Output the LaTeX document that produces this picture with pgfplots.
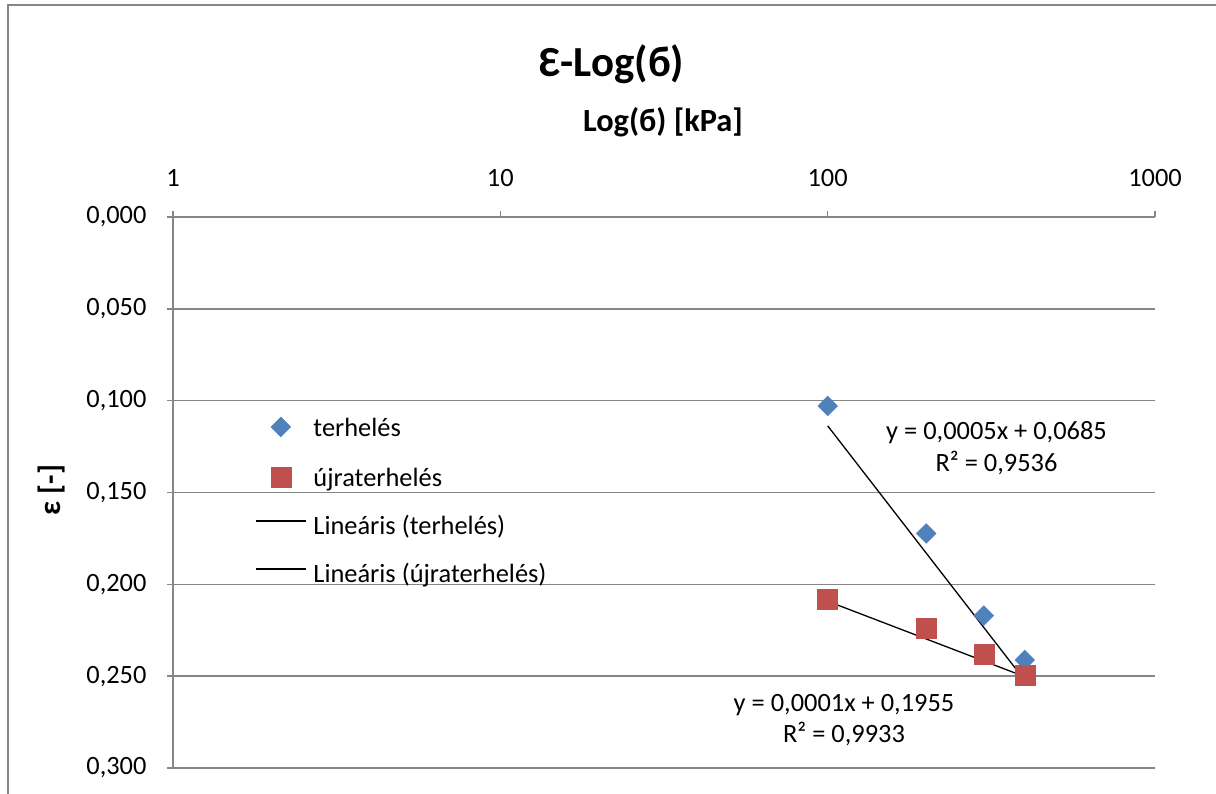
\documentclass[border=0pt]{standalone}
\usepackage{fontspec}
\setmainfont{Carlito}
\usepackage{pgfplots}
\pgfplotsset{compat=1.18}
\definecolor{gridgray}{RGB}{134,134,134}
\definecolor{serblue}{RGB}{79,129,189}
\definecolor{serred}{RGB}{192,80,77}
\pgfplotsset{
  legmark/.style={legend image code/.code={\draw[##1] plot coordinates {(25bp,4bp)};}},
  legline/.style={legend image code/.code={\draw[##1] (0bp,8bp) -- (50bp,8bp);}},
}
\begin{document}
\begin{tikzpicture}[x=1bp,y=1bp]
\useasboundingbox (0,0) rectangle (1216,794);
\fill[white] (0,0) rectangle (1216,794);
\draw[gridgray, line width=2bp] (8,-5) -- (8,788.5) -- (1225,788.5);
\begin{axis}[
  at={(173bp,26bp)}, anchor=south west,
  width=982bp, height=551bp, scale only axis,
  xmode=log, xmin=1, xmax=1000,
  ymin=0, ymax=0.3, y dir=reverse,
  axis x line*=top, axis y line*=left,
  axis line style={gridgray, line width=1.5bp, -},
  xtick={1,10,100,1000}, xticklabels={1,10,100,1000},
  xminorticks=false,
  ytick={0,0.05,0.1,0.15,0.2,0.25,0.3},
  yticklabels={{0,000},{0,050},{0,100},{0,150},{0,200},{0,250},{0,300}},
  tick align=outside, major tick length=6bp,
  tick style={gridgray, line width=1.5bp},
  ymajorgrids, grid style={gridgray, line width=1.5bp},
  ticklabel style={font=\fontsize{26.5}{32}\selectfont, text=black},
  yticklabel style={xshift=-17bp},
  xticklabel style={yshift=21bp},
  clip=false,
  legend style={at={(0.0804,0.481)}, anchor=west, draw=none, fill=none,
    font=\fontsize{26.5}{32}\selectfont,
    nodes={inner sep=0pt, text height=18bp, text depth=6bp},
    row sep=24bp,
    /tikz/every odd column/.style={column sep=7bp}},
  legend cell align=left,
]
\addplot[only marks, mark=square*, mark size=7bp, mark options={rotate=45, fill=serblue, draw=serblue}, legmark]
  coordinates {(100,0.1029) (200,0.1723) (300,0.2170) (400,0.2412)};
\addlegendentry{terhelés}
\addplot[only marks, mark=square*, mark size=10bp, mark options={fill=serred, draw=serred}, legmark]
  coordinates {(100,0.2080) (200,0.2238) (300,0.2379) (400,0.2494)};
\addlegendentry{újraterhelés}
\addplot[black, line width=1.3bp, mark=none, legline]
  coordinates {(100,0.1137) (400,0.2523)};
\addlegendentry{Lineáris (terhelés)}
\addplot[black, line width=1.3bp, mark=none, legline]
  coordinates {(100,0.2092) (400,0.2503)};
\addlegendentry{Lineáris (újraterhelés)}
\end{axis}
\begin{scope}[every node/.style={inner sep=0pt, font=\fontsize{26.5}{32}\selectfont}]
\node[anchor=base] at (996.5,354) {y = 0,0005x + 0,0685};
\node[anchor=base] at (996.5,322) {R² = 0,9536};
\node[anchor=base] at (844,82) {y = 0,0001x + 0,1955};
\node[anchor=base] at (844,51) {R² = 0,9933};
\node[anchor=base, font=\fontsize{43}{50}\selectfont\bfseries] at (612,717) {Ɛ-Log(б)};
\node[anchor=base, font=\fontsize{32.5}{39}\selectfont\bfseries] at (663,662) {Log(б) [kPa]};
\node[anchor=base, rotate=90, font=\fontsize{31}{37}\selectfont\bfseries] at (60,304) {ε [-]};
\end{scope}
\end{tikzpicture}
\end{document}
